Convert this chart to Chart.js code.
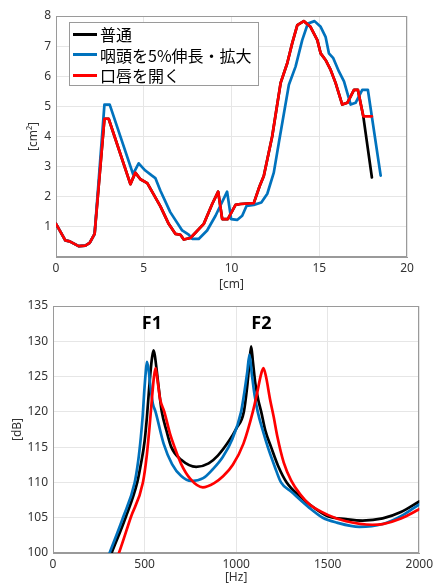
<!DOCTYPE html>
<html>
<head>
<meta charset="utf-8">
<script src="https://cdn.jsdelivr.net/npm/chart.js@4.4.1/dist/chart.umd.min.js"></script>
<style>
  html, body { margin: 0; padding: 0; background: #fff; }
  #wrap { position: relative; width: 437px; height: 585px; }
  #areaChart { position: absolute; left: 0; top: 0; }
  #specChart { position: absolute; left: 0; top: 292px; }
  .legend {
    position: absolute; left: 69px; top: 22px; width: 190px; height: 64px;
    box-sizing: border-box; border: 1px solid #9a9a9a; background: #fff;
    font-family: "Noto Sans CJK JP", sans-serif; font-size: 16px; color: #000;
    padding-top: 1px;
  }
  .legend .row { display: flex; align-items: center; height: 20.5px; }
  .legend .swatch { width: 24px; height: 3px; margin: 0 3px 0 3px; }
</style>
</head>
<body>
<div id="wrap">
  <canvas id="areaChart" width="437" height="292"></canvas>
  <canvas id="specChart" width="437" height="293"></canvas>
  <div class="legend" id="legend"></div>
</div>
<script>
// series names and colours (legend order)
const seriesNames = ['普通', '咽頭を5%伸長・拡大', '口唇を開く'];
const seriesColors = ['#000000', '#0072BD', '#FF0000'];

// --- area function [cm^2] vs distance [cm] ---
const areaX = [0, 0.53, 0.78, 1.29, 1.67, 1.92, 2.2, 2.76, 3.0, 4.24, 4.52, 4.81, 5.2, 5.95, 6.42, 6.8, 7.09, 7.28, 7.66, 8.42, 8.9, 9.24, 9.47, 9.79, 10.23, 10.51, 11.27, 11.6, 11.84, 12.32, 12.8, 13.18, 13.46, 13.75, 14.12, 14.5, 14.89, 15.08, 15.36, 15.65, 15.93, 16.31, 16.6, 16.98, 17.2, 17.51, 18.0];
const areaNormal = [1.1, 0.55, 0.52, 0.36, 0.38, 0.47, 0.77, 4.59, 4.59, 2.42, 2.8, 2.58, 2.45, 1.68, 1.1, 0.77, 0.74, 0.58, 0.63, 1.1, 1.76, 2.17, 1.26, 1.26, 1.73, 1.76, 1.79, 2.35, 2.69, 4.01, 5.78, 6.44, 7.1, 7.7, 7.83, 7.64, 7.2, 6.76, 6.54, 6.21, 5.78, 5.06, 5.12, 5.55, 5.55, 4.67, 2.64];
const areaLips = [1.1, 0.55, 0.52, 0.36, 0.38, 0.47, 0.77, 4.59, 4.59, 2.42, 2.8, 2.58, 2.45, 1.68, 1.1, 0.77, 0.74, 0.58, 0.63, 1.1, 1.76, 2.17, 1.26, 1.26, 1.73, 1.76, 1.79, 2.35, 2.69, 4.01, 5.78, 6.44, 7.1, 7.7, 7.83, 7.64, 7.2, 6.76, 6.54, 6.21, 5.78, 5.06, 5.12, 5.55, 5.55, 4.67, 4.67];
const pharynxX = [0, 0.53, 0.78, 1.29, 1.67, 1.92, 2.2, 2.76, 3.06, 4.39, 4.71, 5.09, 5.47, 5.66, 5.95, 6.51, 7.19, 7.56, 7.76, 8.13, 8.61, 9.09, 9.75, 9.98, 10.32, 10.61, 10.86, 11.27, 11.7, 12.04, 12.41, 12.7, 13.27, 13.65, 14.03, 14.35, 14.73, 15.08, 15.36, 15.55, 15.8, 16.12, 16.41, 16.79, 17.07, 17.45, 17.77, 18.5];
const pharynxArea = [1.1, 0.55, 0.52, 0.36, 0.38, 0.47, 0.77, 5.06, 5.06, 2.75, 3.11, 2.87, 2.7, 2.62, 2.2, 1.49, 0.88, 0.74, 0.6, 0.6, 0.88, 1.37, 2.17, 1.26, 1.23, 1.37, 1.7, 1.73, 1.81, 2.1, 2.8, 3.8, 5.72, 6.32, 7.2, 7.75, 7.83, 7.64, 7.31, 6.76, 6.6, 6.16, 5.83, 5.06, 5.12, 5.55, 5.55, 2.7];

// --- transfer function [dB] vs frequency [Hz] ---
const normalHz = [250, 320, 396, 460, 480, 500, 513, 524, 533, 541, 549, 556, 567, 585, 594, 620, 646, 700, 782, 850, 900, 964, 1000, 1042, 1060, 1072, 1082, 1092, 1105, 1120, 1137, 1160, 1191, 1230, 1276, 1350, 1400, 1500, 1600, 1691, 1800, 1900, 2000];
const normalDb = [95.3, 100, 105, 110, 112.6, 115.8, 119.3, 123, 125.8, 127.7, 128.7, 128, 125.7, 121.7, 120, 117.3, 115, 113.2, 112.2, 112.7, 113.8, 116, 117.6, 120, 123.5, 126.8, 129.3, 127, 124, 121.8, 120, 117.3, 115, 112.3, 110, 108, 106.9, 105.2, 104.8, 104.6, 104.9, 105.8, 107.3];
const pharynxHz = [250, 309, 382, 446, 465, 480, 490, 498, 506, 513, 522, 531, 545, 560, 604, 650, 700, 755, 820, 870, 927, 980, 1027, 1045, 1060, 1073, 1085, 1100, 1118, 1145, 1173, 1210, 1245, 1300, 1400, 1473, 1550, 1673, 1800, 1900, 2000];
const pharynxDb = [96, 100, 105, 110, 113, 116.5, 119.5, 122.8, 125.5, 127.1, 126, 123.8, 121.2, 120, 115.5, 112.6, 110.9, 110.2, 110.6, 111.8, 113.6, 116.2, 120, 122.8, 125.5, 128.1, 125.5, 122.5, 120, 117.4, 115, 112.3, 110, 108.7, 106.4, 105, 104.3, 103.7, 104.1, 105.2, 106.9];
const lipsHz = [300, 360, 424, 491, 512, 527, 540, 551, 560, 570, 585, 608, 640, 664, 700, 750, 818, 880, 930, 982, 1040, 1091, 1115, 1135, 1149, 1163, 1185, 1205, 1225, 1260, 1300, 1350, 1400, 1500, 1600, 1745, 1800, 1900, 2000];
const lipsDb = [96.2, 100, 105, 110, 113.8, 117.8, 121.8, 124.9, 126.2, 124.6, 121.8, 120, 116.8, 115, 112.6, 110.5, 109.3, 109.9, 110.9, 112.5, 115.5, 120, 122.7, 125.2, 126.2, 125, 121.8, 119.3, 116.5, 112.8, 110.3, 108.3, 106.9, 105.4, 104.5, 104.0, 104.1, 104.9, 106.2];

// formant labels
const formantNames = ['F1', 'F2'];
const formantHz = [540, 1138];
const formantDb = [132.4, 132.4];

const pts = (xs, ys) => xs.map((x, i) => ({ x: x, y: ys[i] }));
const tickFont = { family: 'Noto Sans', size: 12 };
const axisGrey = '#9a9a9a';

// draws the MATLAB-like box round the plot area
const boxPlugin = {
  id: 'box',
  beforeDatasetsDraw(chart) {
    const a = chart.chartArea, ctx = chart.ctx;
    ctx.save();
    ctx.strokeStyle = axisGrey;
    ctx.lineWidth = 1;
    ctx.strokeRect(Math.round(a.left) + 0.5, Math.round(a.top) + 0.5, Math.round(a.right - a.left) - 1, Math.round(a.bottom - a.top) - 1);
    ctx.restore();
  }
};

const formantPlugin = {
  id: 'formants',
  afterDatasetsDraw(chart) {
    const ctx = chart.ctx, xs = chart.scales.x, ys = chart.scales.y;
    ctx.save();
    ctx.font = 'bold 18px "Noto Sans"';
    ctx.fillStyle = '#000';
    ctx.textAlign = 'center';
    ctx.textBaseline = 'middle';
    formantNames.forEach((n, i) => ctx.fillText(n, xs.getPixelForValue(formantHz[i]), ys.getPixelForValue(formantDb[i])));
    ctx.restore();
  }
};

function axis(min, max, step, title, titlePad, fixed, isY, hideMin) {
  return {
    type: 'linear', min: min, max: max,
    ticks: {
      stepSize: step, color: '#333', font: tickFont, padding: isY ? 5 : 4,
      callback: v => (hideMin && v === min) ? '' : v
    },
    grid: { color: '#e6e6e6', drawTicks: false },
    border: { color: axisGrey },
    title: { display: true, text: title, color: '#333', font: tickFont, padding: isY ? { top: titlePad } : { bottom: titlePad } },
    afterFit(s) { if (isY) s.width = fixed; else s.height = fixed; }
  };
}

function lineSet(name, data, color, order, smooth) {
  return {
    label: name, data: data, borderColor: color, backgroundColor: color, order: order,
    borderWidth: 2.7, pointRadius: 0, fill: false, borderJoinStyle: 'round', borderCapStyle: 'round',
    cubicInterpolationMode: smooth ? 'monotone' : 'default', tension: 0
  };
}

new Chart(document.getElementById('areaChart'), {
  type: 'line',
  data: {
    datasets: [
      lineSet(seriesNames[0], pts(areaX, areaNormal), seriesColors[0], 2, false),
      lineSet(seriesNames[1], pts(pharynxX, pharynxArea), seriesColors[1], 1, false),
      lineSet(seriesNames[2], pts(areaX, areaLips), seriesColors[2], 0, false)
    ]
  },
  options: {
    responsive: false, animation: false,
    layout: { padding: { left: 0, right: 30, top: 16, bottom: 0 } },
    plugins: { legend: { display: false }, tooltip: { enabled: false } },
    scales: {
      x: axis(0, 20, 5, '[cm]', 0, 35, false, false),
      y: axis(0, 8, 1, '[cm²]', 26, 56, true, true)
    }
  },
  plugins: [boxPlugin]
});

new Chart(document.getElementById('specChart'), {
  type: 'line',
  data: {
    datasets: [
      lineSet(seriesNames[0], pts(normalHz, normalDb), seriesColors[0], 2, true),
      lineSet(seriesNames[1], pts(pharynxHz, pharynxDb), seriesColors[1], 1, true),
      lineSet(seriesNames[2], pts(lipsHz, lipsDb), seriesColors[2], 0, true)
    ]
  },
  options: {
    responsive: false, animation: false,
    layout: { padding: { left: 0, right: 17, top: 14, bottom: 0 } },
    plugins: { legend: { display: false }, tooltip: { enabled: false } },
    scales: {
      x: axis(0, 2000, 500, '[Hz]', 0, 32, false, false),
      y: axis(100, 135, 5, '[dB]', 10, 53, true, false)
    }
  },
  plugins: [boxPlugin, formantPlugin]
});

// legend box in the upper chart
const legend = document.getElementById('legend');
seriesNames.forEach((n, i) => {
  const row = document.createElement('div');
  row.className = 'row';
  const sw = document.createElement('span');
  sw.className = 'swatch';
  sw.style.background = seriesColors[i];
  const label = document.createElement('span');
  label.textContent = n;
  row.appendChild(sw);
  row.appendChild(label);
  legend.appendChild(row);
});
</script>
</body>
</html>
